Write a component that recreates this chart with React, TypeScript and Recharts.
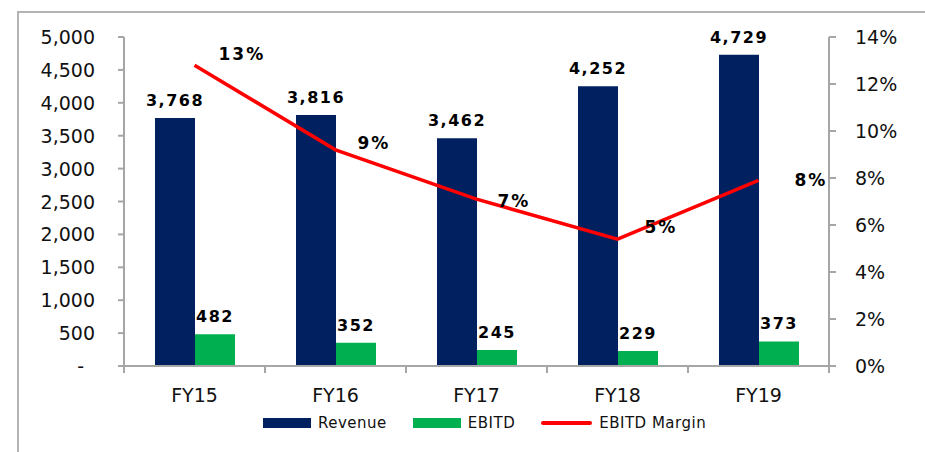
import React from 'react';
import { Bar, ComposedChart, LabelList, Line, XAxis, YAxis } from 'recharts';

// values
const years = ['FY15', 'FY16', 'FY17', 'FY18', 'FY19'];
const revenue = [3768, 3816, 3462, 4252, 4729];
const ebitd = [482, 352, 245, 229, 373];
const ebitdMargin = [12.8, 9.2, 7.1, 5.4, 7.9];
const leftTicks = [0, 500, 1000, 1500, 2000, 2500, 3000, 3500, 4000, 4500, 5000];
const rightTicks = [0, 2, 4, 6, 8, 10, 12, 14];
const marginLabels = ['13%', '9%', '7%', '5%', '8%'];

const data = years.map((y, i) => ({ year: y, revenue: revenue[i], ebitd: ebitd[i], margin: ebitdMargin[i] }));

const W = 925;
const H = 452;
const LEFT_W = 124;
const RIGHT_W = 96;
const HALF_BAND = (W - LEFT_W - RIGHT_W) / years.length / 2;

// where Excel dropped the % labels relative to each point
const labelNudge = [[24, -11], [22, -7], [21, 2], [27, -12], [36, 0]];

const NAVY = '#002060';
const GREEN = '#00B050';
const RED = '#FF0000';
const AXIS = '#a6a6a6';
const FONT = '"DejaVu Sans", Verdana, sans-serif';

const fmt = (v: number) => v.toLocaleString('en-US');

const XTick = (props: any) => {
    const { x, y, payload, index } = props;
    return (
        <g>
            <line x1={x - HALF_BAND} x2={x - HALF_BAND} y1={y} y2={y + 7} stroke={AXIS} strokeWidth={2} />
            {index === years.length - 1 && (
                <line x1={x + HALF_BAND} x2={x + HALF_BAND} y1={y} y2={y + 7} stroke={AXIS} strokeWidth={2} />
            )}
            <text x={x} y={y + 29} textAnchor="middle" dominantBaseline="central" fontSize={19} fill="#111" fontFamily={FONT}>
                {payload.value}
            </text>
        </g>
    );
};

const LeftTick = (props: any) => {
    const { x, y, payload } = props;
    const zero = payload.value === 0;
    return (
        <text x={zero ? x - 11 : x} y={y} textAnchor="end" dominantBaseline="central" fontSize={19} fill="#111" fontFamily={FONT}>
            {zero ? '-' : fmt(payload.value)}
        </text>
    );
};

const MarginLabel = (props: any) => {
    const { x, y, index } = props;
    const [dx, dy] = labelNudge[index];
    return (
        <text x={x + dx} y={y + dy} textAnchor="start" dominantBaseline="central" fontSize={17} fontWeight="bold" letterSpacing={2} fill="#000" fontFamily={FONT}>
            {marginLabels[index]}
        </text>
    );
};

const barLabelStyle = { fontSize: 16, fontWeight: 'bold', letterSpacing: 1.5, fill: '#000', fontFamily: FONT } as any;

const legendItems = [
    { name: 'Revenue', color: NAVY, kind: 'rect' },
    { name: 'EBITD', color: GREEN, kind: 'rect' },
    { name: 'EBITD Margin', color: RED, kind: 'line' },
];

export default function App() {
    return (
        <div style={{ position: 'absolute', left: 0, top: 0, width: W, height: H, overflow: 'hidden', background: '#fff', fontFamily: FONT }}>
            {/* chart frame */}
            <div style={{ position: 'absolute', left: 17, top: 11, width: 960, height: 500, borderLeft: '2px solid #b4b4b4', borderTop: '2px solid #b4b4b4' }} />

            <div style={{ position: 'absolute', left: 0, top: 0 }}>
                <ComposedChart width={W} height={H} data={data} margin={{ top: 37, right: 0, bottom: 0, left: 0 }} barGap={0}>
                    <XAxis
                        dataKey="year"
                        height={86}
                        tick={<XTick />}
                        tickLine={false}
                        tickSize={0}
                        tickMargin={0}
                        axisLine={{ stroke: AXIS, strokeWidth: 2 }}
                        interval={0}
                    />
                    <YAxis
                        yAxisId="left"
                        width={LEFT_W}
                        domain={[0, 5000]}
                        ticks={leftTicks}
                        interval={0}
                        tick={<LeftTick />}
                        tickSize={6}
                        tickMargin={23}
                        tickLine={{ stroke: AXIS, strokeWidth: 2 }}
                        axisLine={{ stroke: AXIS, strokeWidth: 2 }}
                    />
                    <YAxis
                        yAxisId="right"
                        orientation="right"
                        width={RIGHT_W}
                        domain={[0, 14]}
                        ticks={rightTicks}
                        interval={0}
                        tickFormatter={(v: number) => `${v}%`}
                        tick={{ fontSize: 19, fill: '#111', fontFamily: FONT, textAnchor: 'start' }}
                        tickSize={7}
                        tickMargin={19}
                        tickLine={{ stroke: AXIS, strokeWidth: 2 }}
                        axisLine={{ stroke: AXIS, strokeWidth: 2 }}
                    />
                    <Bar yAxisId="left" dataKey="revenue" name="Revenue" fill={NAVY} barSize={40} isAnimationActive={false}>
                        <LabelList dataKey="revenue" position="top" offset={12} formatter={(v: any) => fmt(v)} style={barLabelStyle} />
                    </Bar>
                    <Bar yAxisId="left" dataKey="ebitd" name="EBITD" fill={GREEN} barSize={40} isAnimationActive={false}>
                        <LabelList dataKey="ebitd" position="top" offset={12} formatter={(v: any) => fmt(v)} style={barLabelStyle} />
                    </Bar>
                    <Line yAxisId="right" dataKey="margin" name="EBITD Margin" type="linear" stroke={RED} strokeWidth={3.5} dot={false} activeDot={false} isAnimationActive={false}>
                        <LabelList dataKey="margin" content={<MarginLabel />} />
                    </Line>
                </ComposedChart>
            </div>

            {/* legend */}
            <div style={{ position: 'absolute', left: 263, top: 413, height: 20, display: 'flex', alignItems: 'center', gap: 26, fontSize: 15, letterSpacing: 0.5, color: '#111' }}>
                {legendItems.map((it) => (
                    <div key={it.name} style={{ display: 'flex', alignItems: 'center', gap: 7 }}>
                        {it.kind === 'rect' ? (
                            <div style={{ width: 48, height: 10, background: it.color }} />
                        ) : (
                            <div style={{ width: 51, height: 4, borderRadius: 2, background: it.color }} />
                        )}
                        <span>{it.name}</span>
                    </div>
                ))}
            </div>
        </div>
    );
}
